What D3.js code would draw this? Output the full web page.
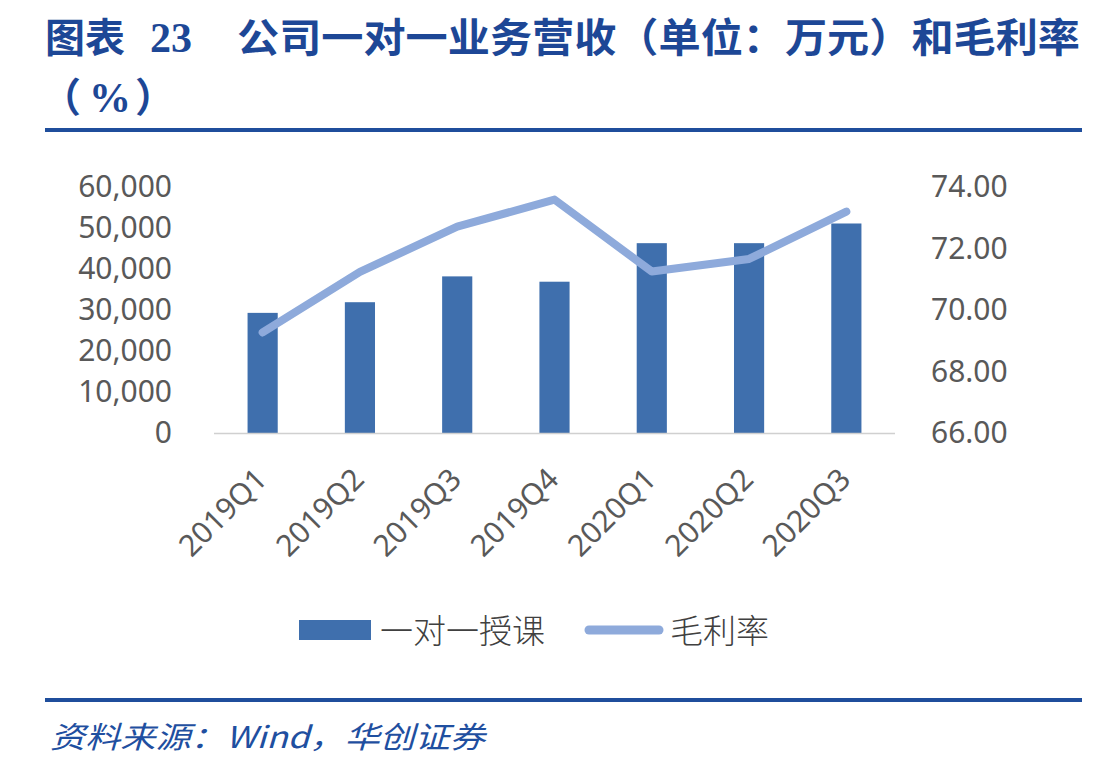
<!DOCTYPE html>
<html>
<head>
<meta charset="utf-8">
<script src="https://cdn.jsdelivr.net/npm/d3@7/dist/d3.min.js"></script>
<style>
  html, body { margin: 0; padding: 0; background: #ffffff; }
  svg { display: block; }
</style>
</head>
<body>
<svg id="chart" width="1108" height="764"></svg>
<script>
// ---- Data ----
const categories = ["2019Q1", "2019Q2", "2019Q3", "2019Q4", "2020Q1", "2020Q2", "2020Q3"];
const revenue = [29300, 31900, 38200, 36900, 46300, 46300, 51100];   // 一对一授课 (万元)
const grossMargin = [69.27, 71.24, 72.71, 73.59, 71.25, 71.66, 73.20]; // 毛利率 (%)
const leftTicks = [0, 10000, 20000, 30000, 40000, 50000, 60000];
const rightTicks = [66, 68, 70, 72, 74];
const seriesNames = ["一对一授课", "毛利率"];

const svg = d3.select("#chart");
const blue = "#1d4796";
const barColor = "#3f6fad";
const lineColor = "#8eaadb";
const tickColor = "#595959";
const numFont = "'Noto Sans', 'Open Sans', sans-serif";
const cjkFont = "'Noto Sans CJK SC', 'Noto Sans', sans-serif";

// ---- Title ----
const title = svg.append("g").attr("fill", blue).attr("font-weight", "bold");
title.append("text").attr("x", 45).attr("y", 52)
  .attr("font-family", cjkFont).attr("font-size", 40).text("图表");
title.append("text").attr("x", 150).attr("y", 52)
  .attr("font-family", "'Liberation Serif', serif").attr("font-size", 42).text("23");
title.append("text").attr("x", 237).attr("y", 52)
  .attr("font-family", cjkFont).attr("font-size", 40)
  .attr("textLength", 843).attr("lengthAdjust", "spacingAndGlyphs")
  .text("公司一对一业务营收（单位：万元）和毛利率");
title.append("text").attr("x", 41).attr("y", 112)
  .attr("font-family", cjkFont).attr("font-size", 40).text("（");
title.append("text").attr("x", 89).attr("y", 112)
  .attr("font-family", "'Liberation Serif', serif").attr("font-size", 42).text("%");
title.append("text").attr("x", 135).attr("y", 112)
  .attr("font-family", cjkFont).attr("font-size", 40).text("）");

svg.append("rect").attr("x", 45).attr("y", 128).attr("width", 1037).attr("height", 4).attr("fill", "#1f4e9c");

// ---- Scales ----
const x = d3.scaleBand().domain(categories).range([214, 895]).padding(0);
const yL = d3.scaleLinear().domain([0, 60000]).range([433, 187]);
const yR = d3.scaleLinear().domain([66, 74]).range([433, 187]);
const barW = x.bandwidth() * 0.31;

// ---- Axes ----
const leftAxis = svg.append("g").attr("transform", "translate(172,0)")
  .call(d3.axisLeft(yL).tickValues(leftTicks).tickSize(0).tickPadding(0).tickFormat(d3.format(",")));
leftAxis.select(".domain").remove();
leftAxis.selectAll("text").attr("font-family", numFont).attr("font-size", 30).attr("fill", tickColor);

const rightAxis = svg.append("g").attr("transform", "translate(931,0)")
  .call(d3.axisRight(yR).tickValues(rightTicks).tickSize(0).tickPadding(0).tickFormat(d3.format(".2f")));
rightAxis.select(".domain").remove();
rightAxis.selectAll("text").attr("font-family", numFont).attr("font-size", 30).attr("fill", tickColor);

// ---- Bars ----
svg.append("g").selectAll("rect").data(categories).join("rect")
  .attr("x", d => x(d) + x.bandwidth() / 2 - barW / 2)
  .attr("y", (d, i) => yL(revenue[i]))
  .attr("width", barW)
  .attr("height", (d, i) => yL(0) - yL(revenue[i]))
  .attr("fill", barColor);

// baseline
svg.append("line").attr("x1", 214).attr("x2", 895).attr("y1", 433.5).attr("y2", 433.5)
  .attr("stroke", "#d0d0d0").attr("stroke-width", 1.5);

// ---- Line ----
const line = d3.line()
  .x((d, i) => x(categories[i]) + x.bandwidth() / 2)
  .y(d => yR(d));
svg.append("path").datum(grossMargin)
  .attr("d", line).attr("fill", "none")
  .attr("stroke", lineColor).attr("stroke-width", 8)
  .attr("stroke-linecap", "round").attr("stroke-linejoin", "round");

// ---- X labels ----
const xAxis = svg.append("g").attr("transform", "translate(0,433)")
  .call(d3.axisBottom(x).tickSize(0).tickPadding(0));
xAxis.select(".domain").remove();
xAxis.selectAll("text")
  .attr("font-family", numFont).attr("font-size", 30).attr("fill", tickColor)
  .attr("text-anchor", "end").attr("dy", null).attr("y", 0)
  .attr("transform", "translate(6,48) rotate(-45)");

// ---- Legend ----
const lg = svg.append("g");
lg.append("rect").attr("x", 299).attr("y", 620).attr("width", 72).attr("height", 20).attr("fill", barColor);
lg.append("text").attr("x", 380).attr("y", 643).attr("font-family", cjkFont).attr("font-size", 33)
  .attr("font-weight", 300).attr("fill", "#404040").text(seriesNames[0]);
lg.append("line").attr("x1", 589).attr("x2", 659).attr("y1", 630).attr("y2", 630)
  .attr("stroke", lineColor).attr("stroke-width", 9).attr("stroke-linecap", "round");
lg.append("text").attr("x", 670).attr("y", 643).attr("font-family", cjkFont).attr("font-size", 33)
  .attr("font-weight", 300).attr("fill", "#404040").text(seriesNames[1]);

// ---- Footer ----
svg.append("rect").attr("x", 45).attr("y", 698).attr("width", 1037).attr("height", 4).attr("fill", "#1f4e9c");
svg.append("text").attr("x", 50).attr("y", 748)
  .attr("font-family", cjkFont).attr("font-size", 30).attr("font-style", "italic")
  .attr("fill", "#1f4fa0").attr("textLength", 435).attr("lengthAdjust", "spacingAndGlyphs")
  .text("资料来源：Wind，华创证券");
</script>
</body>
</html>
